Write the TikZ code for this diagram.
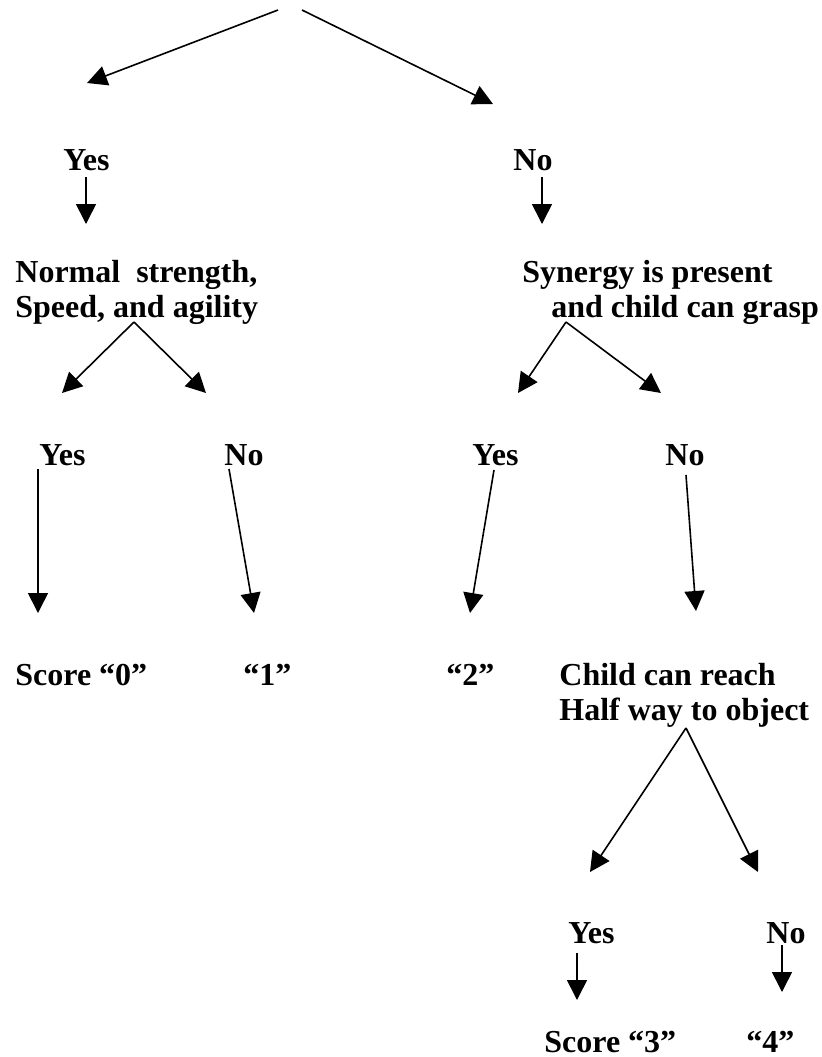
\documentclass[tikz,border=0pt]{standalone}
\usepackage{fontspec}
\setmainfont{Liberation Serif}
\usetikzlibrary{arrows.meta}

\begin{document}
\begin{tikzpicture}[x=0.5pt, y=-0.5pt,
  txt/.style={font=\bfseries\fontsize{16}{17.5}\selectfont, inner sep=0pt, align=left},
  arr/.style={-{Triangle[length=10pt,width=10pt]}, line width=0.8pt}]

\useasboundingbox (0,0) rectangle (822,1057);

\coordinate (topL) at (278,10);
\coordinate (topR) at (302,10);
\draw[arr] (topL) -- (87,83) coordinate (tipA);
\draw[arr] (topR) -- (493,104) coordinate (tipB);

\node[txt, anchor=base west] (yesA) at (63,170) {Yes};
\node[txt, anchor=base west] (noA) at (513,170) {No};
\draw[arr] (86,177) coordinate (sYesA) -- (86,224) coordinate (tYesA);
\draw[arr] (542,177) coordinate (sNoA) -- (542,224) coordinate (tNoA);

\node[txt, anchor=north west] (normal) at (15,260) {Normal\ \ strength,\\Speed, and agility};
\node[txt, anchor=north west] (synergy) at (522,260) {Synergy is present\\\hspace*{14.5pt}and child can grasp};

\coordinate (splitA) at (134,322);
\coordinate (splitB) at (566,322);
\draw[arr] (splitA) -- (62,393);
\draw[arr] (splitA) -- (206,393);
\draw[arr] (splitB) -- (518,393);
\draw[arr] (splitB) -- (661,393);

\node[txt, anchor=base west] (yesB) at (39,465) {Yes};
\node[txt, anchor=base west] (noB) at (224,465) {No};
\node[txt, anchor=base west] (yesC) at (472,465) {Yes};
\node[txt, anchor=base west] (noC) at (665,465) {No};
\draw[arr] (38,469) coordinate (sYesB) -- (38,613) coordinate (tYesB);
\draw[arr] (229,469) coordinate (sNoB) -- (254,613) coordinate (tNoB);
\draw[arr] (494,470) coordinate (sYesC) -- (470,613) coordinate (tYesC);
\draw[arr] (686,475) coordinate (sNoC) -- (696,611) coordinate (tNoC);

\node[txt, anchor=base west] (score0) at (15,685) {Score “0”};
\node[txt, anchor=base west] (score1) at (243,685) {“1”};
\node[txt, anchor=base west] (score2) at (446,685) {“2”};
\node[txt, anchor=north west] (reach) at (559,663) {Child can reach\\Half way to object};

\coordinate (splitC) at (686,728);
\draw[arr] (splitC) -- (590,872);
\draw[arr] (splitC) -- (758,872);

\node[txt, anchor=base west] (yesD) at (568,943) {Yes};
\node[txt, anchor=base west] (noD) at (766,943) {No};
\draw[arr] (577,953) coordinate (sYesD) -- (577,1000) coordinate (tYesD);
\draw[arr] (782,945) coordinate (sNoD) -- (782,992) coordinate (tNoD);

\node[txt, anchor=base west] (score3) at (544,1052) {Score “3”};
\node[txt, anchor=base west] (score4) at (746,1052) {“4”};

\end{tikzpicture}
\end{document}
